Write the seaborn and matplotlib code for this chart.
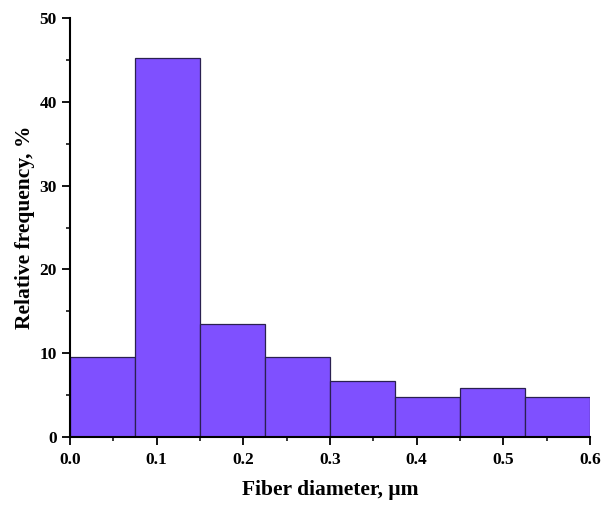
import numpy as np
import matplotlib
matplotlib.use("Agg")
import matplotlib.pyplot as plt
from matplotlib.ticker import MultipleLocator
import seaborn as sns

# Fiber diameter distribution: bin edges (µm) and relative frequency (%)
bin_edges = [0.0, 0.075, 0.15, 0.225, 0.3, 0.375, 0.45, 0.525, 0.6]
rel_freq = [9.6, 45.2, 13.5, 9.6, 6.7, 4.8, 5.8, 4.8]
bin_centers = [(a + b) / 2 for a, b in zip(bin_edges[:-1], bin_edges[1:])]

sns.set_theme(style="ticks")
plt.rcParams["font.family"] = ["Liberation Serif", "DejaVu Serif"]
plt.rcParams["font.weight"] = "bold"

fig = plt.figure(figsize=(6.01, 5.07), dpi=100)
ax = fig.add_axes([0.1165, 0.138, 0.865, 0.8265])

sns.histplot(x=bin_centers, weights=rel_freq, bins=bin_edges, ax=ax,
             color="#7f50ff", alpha=1.0, edgecolor="#2a2050", linewidth=0.9)

ax.set_xlim(0, 0.6)
ax.set_ylim(0, 50)
ax.xaxis.set_major_locator(MultipleLocator(0.1))
ax.xaxis.set_minor_locator(MultipleLocator(0.05))
ax.yaxis.set_major_locator(MultipleLocator(10))
ax.yaxis.set_minor_locator(MultipleLocator(5))
ax.set_xticklabels([f"{v:.1f}" for v in ax.get_xticks()])

ax.tick_params(which="major", direction="out", length=5.5, width=1.3,
               labelsize=12.5, colors="black", labelcolor="black")
ax.tick_params(axis="x", which="major", pad=5)
ax.tick_params(axis="y", which="major", pad=4)
ax.tick_params(which="minor", direction="out", length=3, width=1.1, colors="black")
for lab in ax.get_xticklabels() + ax.get_yticklabels():
    lab.set_fontweight("bold")

for side in ("top", "right"):
    ax.spines[side].set_visible(False)
for side in ("left", "bottom"):
    ax.spines[side].set_linewidth(1.5)
    ax.spines[side].set_color("black")

ax.set_xlabel("Fiber diameter, μm", fontsize=15.5, fontweight="bold",
              labelpad=9, color="black")
ax.set_ylabel("Relative frequency, %", fontsize=15.5, fontweight="bold",
              labelpad=3, color="black")

fig.savefig("out.png", dpi=100)
